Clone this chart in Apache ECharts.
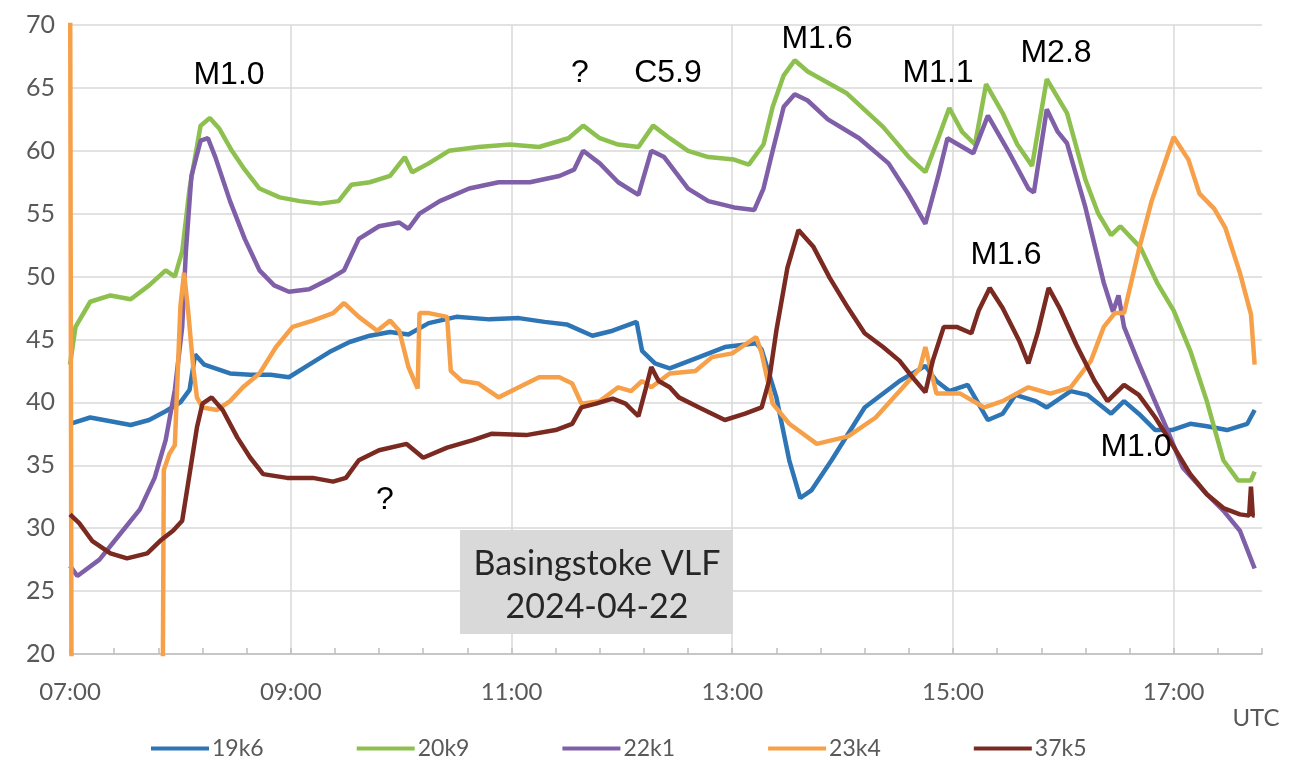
<!DOCTYPE html>
<html>
<head>
<meta charset="utf-8">
<script src="https://cdn.jsdelivr.net/npm/echarts@6/dist/echarts.min.js"></script>
<style>html,body{margin:0;padding:0;background:#fff}#c{width:1297px;height:767px}</style>
</head>
<body>
<div id="c"></div>
<script>
// time = minutes after 07:00 UTC, value = signal level
const seriesNames = ['19k6', '20k9', '22k1', '23k4', '37k5'];
const xTickLabels = ['07:00', '09:00', '11:00', '13:00', '15:00', '17:00'];

const s19k6 = [[0,38.3],[11,38.8],[22,38.5],[33,38.2],[43,38.6],[52,39.3],[60,40],[65,41],[68,43.8],[73,43],[87,42.3],[98,42.2],[109,42.2],[119,42],[130,43],[141,44],[152,44.8],[163,45.3],[174,45.6],[184,45.4],[195,46.3],[210,46.8],[228,46.6],[244,46.7],[258,46.4],[270,46.2],[284,45.3],[295,45.7],[308,46.4],[311,44.1],[318,43.1],[326,42.7],[342,43.6],[356,44.4],[373,44.7],[376,44.2],[384,40.4],[391,35.4],[397,32.4],[403,33],[414,35.4],[432,39.6],[451,41.7],[465,42.9],[471,41.7],[478,40.9],[488,41.4],[499,38.6],[507,39.1],[514,40.6],[525,40.1],[531,39.6],[544,40.9],[553,40.6],[566,39.1],[573,40.1],[581,39.1],[590,37.8],[599,37.8],[609,38.3],[618,38.1],[629,37.8],[640,38.3],[644,39.4]];

const s20k9 = [[0,43],[3,46],[11,48],[22,48.5],[33,48.2],[43,49.3],[52,50.5],[57,50],[61,52],[65,57],[71,62],[76,62.6],[81,61.8],[88,60],[95,58.5],[103,57],[114,56.3],[125,56],[136,55.8],[146,56],[153,57.3],[163,57.5],[174,58],[182,59.5],[186,58.3],[195,59],[206,60],[222,60.3],[239,60.5],[255,60.3],[271,61],[279,62],[288,61],[298,60.5],[309,60.3],[317,62],[326,61],[336,60],[347,59.5],[361,59.3],[369,58.9],[377,60.5],[382,63.5],[388,66],[394,67.2],[401,66.3],[422,64.6],[442,61.9],[456,59.5],[465,58.3],[472,61],[478,63.4],[485,61.5],[492,60.5],[498,65.3],[507,63],[515,60.5],[523,58.8],[531,65.7],[542,63],[552,57.7],[559,55],[566,53.3],[571,54],[582,52.3],[591,49.5],[600,47.3],[609,44.1],[618,40.1],[627,35.4],[635,33.8],[642,33.8],[644,34.5]];

const s22k1 = [[0,27],[4,26.2],[16,27.5],[27,29.5],[38,31.5],[46,34],[52,37],[57,41],[61,46],[63,52],[66,58],[71,60.8],[75,61],[79,59.5],[87,56],[95,53],[103,50.5],[111,49.3],[119,48.8],[130,49],[141,49.8],[149,50.5],[157,53],[168,54],[179,54.3],[184,53.8],[190,55],[201,56],[217,57],[233,57.5],[250,57.5],[266,58],[274,58.5],[279,60],[288,59],[298,57.5],[309,56.5],[316,60],[323,59.5],[336,57],[347,56],[361,55.5],[372,55.3],[377,57],[382,60],[388,63.5],[394,64.5],[401,64],[412,62.5],[429,61],[445,59],[456,56.5],[465,54.2],[472,58],[477,61],[491,59.8],[499,62.8],[510,60],[521,57],[524,56.7],[531,63.3],[537,61.5],[542,60.6],[552,55.5],[562,49.5],[567,47.2],[570,48.5],[573,46],[581,43.1],[588,40.7],[596,38],[605,34.8],[618,32.7],[627,31.4],[636,29.8],[644,26.8]];

const s23k4 = [[0,80],[1,5],[50,5],[51,34.6],[54,35.9],[57,36.6],[60,47.6],[62,50.3],[64,47.6],[67,42.8],[69,40.4],[72,39.6],[80,39.4],[87,40.1],[94,41.2],[103,42.3],[112,44.4],[121,46],[132,46.5],[143,47.1],[149,47.9],[157,46.8],[167,45.7],[174,46.5],[179,45.7],[184,42.8],[189,41.1],[190,47.1],[195,47.1],[205,46.8],[207,42.5],[213,41.7],[222,41.5],[233,40.4],[244,41.2],[255,42],[266,42],[273,41.5],[278,39.9],[288,40.1],[298,41.2],[305,40.9],[311,41.7],[316,41.2],[326,42.3],[340,42.5],[349,43.6],[360,43.9],[373,45.2],[376,43.9],[382,39.9],[391,38.3],[406,36.7],[423,37.3],[438,38.8],[451,40.9],[462,42.7],[465,44.4],[471,40.7],[484,40.7],[497,39.6],[507,40.1],[521,41.2],[533,40.7],[544,41.2],[555,43.3],[562,46],[568,47.1],[573,47.1],[581,52.1],[588,56],[592,57.7],[600,61.1],[608,59.3],[614,56.6],[622,55.4],[628,53.9],[636,50.3],[642,47],[644,43]];

const s37k5 = [[0,31.1],[5,30.4],[12,29],[22,28],[31,27.6],[42,28],[49,29],[56,29.8],[61,30.6],[65,34.3],[69,38],[72,39.9],[77,40.4],[83,39.4],[91,37.2],[98,35.6],[105,34.3],[118,34],[132,34],[143,33.7],[150,34],[157,35.4],[168,36.2],[183,36.7],[192,35.6],[205,36.4],[219,37],[229,37.5],[248,37.4],[264,37.8],[273,38.3],[278,39.6],[286,39.9],[295,40.3],[302,39.9],[309,38.9],[313,41.1],[316,42.8],[320,41.7],[326,41.2],[331,40.4],[342,39.6],[356,38.6],[367,39.1],[376,39.6],[380,41.7],[384,45.7],[390,50.7],[396,53.7],[404,52.4],[413,49.9],[423,47.5],[432,45.5],[442,44.4],[451,43.3],[458,42],[465,40.8],[469,43.3],[475,46],[482,46],[490,45.5],[494,47.3],[500,49.1],[507,47.5],[516,44.9],[521,43.1],[526,45.5],[532,49.1],[538,47.5],[547,44.6],[557,41.7],[564,40.1],[573,41.4],[581,40.6],[590,38.8],[599,36.7],[609,34.3],[618,32.7],[627,31.6],[636,31.1],[641,31],[642,33.3],[643,31],[644,31]];

const annotations = [
  {text:'M1.0', x:229, y:75}, {text:'?', x:580, y:73}, {text:'C5.9', x:668, y:73},
  {text:'M1.6', x:817, y:39}, {text:'M1.1', x:938, y:73}, {text:'M2.8', x:1056, y:53},
  {text:'M1.6', x:1006, y:255}, {text:'M1.0', x:1136, y:447}, {text:'?', x:385, y:500}
];

const colors = ['#2E75B6', '#8DC04E', '#7F60A8', '#F7A04A', '#7B2A22'];
const allData = [s19k6, s20k9, s22k1, s23k4, s37k5];

const chart = echarts.init(document.getElementById('c'), null, {renderer: 'canvas'});
const labelFont = 'Lato, "Open Sans", sans-serif';
const fmtX = v => {
  const idx = Math.round(v / 120);
  return (Math.abs(v - idx * 120) < 1e-6 && xTickLabels[idx]) ? xTickLabels[idx] : '';
};

chart.setOption({
  animation: false,
  backgroundColor: '#fff',
  color: colors,
  grid: {left: 70, right: 35, top: 25, bottom: 113, containLabel: false},
  legend: {
    data: seriesNames, left: 146, top: 732, icon: 'rect', itemWidth: 58, itemHeight: 4, itemGap: 93,
    textStyle: {fontFamily: labelFont, fontSize: 23, color: '#595959', padding: [0,0,0,-2]}
  },
  xAxis: [{
    type: 'value', min: 0, max: 648, interval: 120,
    axisLine: {show: true, lineStyle: {color: '#BFBFBF', width: 1.5}},
    axisTick: {show: false},
    axisLabel: {formatter: fmtX, showMaxLabel: false, margin: 26, color: '#595959', fontFamily: labelFont, fontSize: 24},
    splitLine: {show: true, showMaxLine: false, lineStyle: {color: '#D9D9D9', width: 1.5}}
  }, {
    type: 'value', position: 'bottom', min: 0, max: 648, interval: 24,
    axisLine: {show: false},
    axisTick: {show: true, inside: true, length: 6, lineStyle: {color: '#BFBFBF', width: 1.5}},
    axisLabel: {show: false},
    splitLine: {show: false}
  }],
  yAxis: {
    type: 'value', min: 20, max: 70, interval: 5,
    axisLine: {show: false}, axisTick: {show: false},
    axisLabel: {margin: 15, color: '#595959', fontFamily: labelFont, fontSize: 25},
    splitLine: {lineStyle: {color: '#D9D9D9', width: 1.5}}
  },
  series: seriesNames.map((n, i) => ({
    name: n, type: 'line', data: allData[i], xAxisIndex: 0,
    showSymbol: false, symbol: 'none', clip: true,
    lineStyle: {width: 4.5, color: colors[i]}, itemStyle: {color: colors[i]}
  })),
  graphic: [
    {type: 'rect', shape: {x: 460, y: 530, width: 273, height: 104}, style: {fill: '#D9D9D9'}, z: 10},
    {type: 'text', x: 597, y: 564, z: 11, style: {text: 'Basingstoke VLF', fontFamily: labelFont, fontSize: 34, fill: '#262626', align: 'center', verticalAlign: 'middle'}},
    {type: 'text', x: 597, y: 607, z: 11, style: {text: '2024-04-22', fontFamily: labelFont, fontSize: 34, fill: '#262626', align: 'center', verticalAlign: 'middle'}},
    {type: 'text', x: 1256, y: 718, z: 11, style: {text: 'UTC', fontFamily: labelFont, fontSize: 24, fill: '#595959', align: 'center', verticalAlign: 'middle'}}
  ].concat(annotations.map(a => ({
    type: 'text', x: a.x, y: a.y, z: 11,
    style: {text: a.text, fontFamily: '"Liberation Sans", Arial, sans-serif', fontSize: 32, fill: '#000', align: 'center', verticalAlign: 'middle'}
  })))
});
</script>
</body>
</html>
